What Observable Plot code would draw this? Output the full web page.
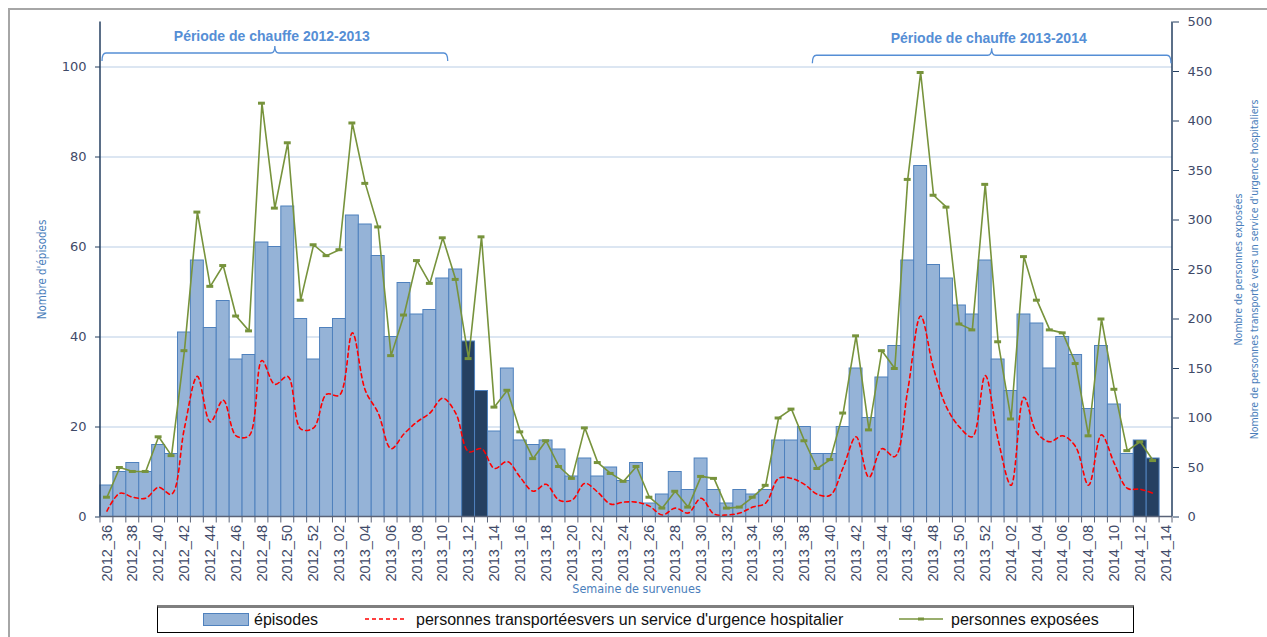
<!DOCTYPE html>
<html>
<head>
<meta charset="utf-8">
<script src="https://cdn.jsdelivr.net/npm/d3@7"></script>
<script src="https://cdn.jsdelivr.net/npm/@observablehq/plot@0.6"></script>
<style>
  html, body { margin:0; padding:0; background:#fff; }
  body { width:1267px; height:637px; overflow:hidden; position:relative; font-family:"Liberation Sans", Arial, sans-serif; }
  #frame { position:absolute; left:8px; top:8px; width:1400px; height:800px; border:2px solid #a6a6a6; box-sizing:border-box; }
  #chart { position:absolute; left:0; top:0; }
  #legend { position:absolute; left:157px; top:605px; width:975px; height:24px; border:1px solid #000; border-top:3px solid #7f7f7f; background:#fff; }
  .li { position:absolute; top:0; height:24px; line-height:24px; font-size:16px; color:#111; white-space:nowrap; }
  .sw { position:absolute; top:5px; }
</style>
</head>
<body>
<div id="frame"></div>
<div id="chart"></div>
<div id="legend">
  <svg class="sw" style="left:45px" width="46" height="14"><rect x="0.5" y="0.5" width="45" height="12" fill="#95b3d7" stroke="#4f81bd"/></svg>
  <div class="li" style="left:96px">épisodes</div>
  <svg class="sw" style="left:207px" width="42" height="14"><line x1="0" y1="6" x2="42" y2="6" stroke="#ff0000" stroke-width="1.6" stroke-dasharray="4,3"/></svg>
  <div class="li" style="left:258px">personnes transportéesvers un service d'urgence hospitalier</div>
  <svg class="sw" style="left:741px" width="44" height="14"><line x1="0" y1="6" x2="44" y2="6" stroke="#77933c" stroke-width="1.5"/><line x1="19" y1="6" x2="25" y2="6" stroke="#77933c" stroke-width="3"/></svg>
  <div class="li" style="left:793px">personnes exposées</div>
</div>
<script>
// ---- categories (weeks) ----
const weeks2012 = [36,37,38,39,40,41,42,43,44,45,46,47,48,49,50,51,52];
const weeks2013 = [1,2,3,4,5,6,7,8,9,10,11,12,13,14,15,16,17,18,19,20,21,22,23,24,25,26,27,28,29,30,31,32,33,34,35,36,37,38,39,40,41,42,43,44,45,46,47,48,49,50,51,52];
const weeks2014 = [1,2,3,4,5,6,7,8,9,10,11,12,13,14];
const pad = n => String(n).padStart(2, "0");
const weeks = [
  ...weeks2012.map(w => "2012_" + pad(w)),
  ...weeks2013.map(w => "2013_" + pad(w)),
  ...weeks2014.map(w => "2014_" + pad(w))
];

// ---- series (one value per week, 2014_14 empty) ----
const episodes = [7,10,12,10,16,14,41,57,42,48,35,36,61,60,69,44,35,
  42,44,67,65,58,40,52,45,46,53,55,39,28,19,33,17,16,17,15,9,13,9,11,8,12,3,5,10,6,13,6,3,6,5,6,17,17,20,14,14,20,33,22,31,38,57,78,56,53,47,45,57,
  35,28,45,43,33,40,36,24,38,25,14,17,13,null];
const exposed = [20,50,46,46,81,62,168,308,233,254,203,188,418,312,378,219,275,
  264,270,398,337,293,163,204,259,236,282,240,160,283,111,128,86,59,77,51,39,90,55,44,36,51,20,9,26,10,41,39,9,10,20,32,100,109,77,49,58,105,183,88,168,150,341,449,325,313,195,189,336,
  177,99,263,219,189,186,155,82,200,129,67,76,57,null];
const transported = [6,24,20,19,30,23,90,142,96,118,82,82,158,134,142,89,90,
  124,123,186,128,105,69,84,96,105,120,105,66,69,49,56,40,26,33,17,17,34,25,13,15,15,11,2,9,4,19,3,2,4,10,14,39,39,33,23,22,50,81,40,69,61,128,203,150,111,91,81,143,
  78,32,121,85,76,82,71,32,83,54,29,28,24,null];
const highlighted = ["2013_12","2013_13","2014_12","2014_13"];

// ---- axes ----
const leftTicks = [0,20,40,60,80,100];
const rightTicks = [0,50,100,150,200,250,300,350,400,450,500];
const leftMax = 110, rightMax = 500;
const K = leftMax / rightMax;

// ---- annotations ----
const periods = [
  {label:"Période de chauffe 2012-2013", from:"2012_36", to:"2013_10", level:103},
  {label:"Période de chauffe 2013-2014", from:"2013_39", to:"2014_14", level:102.5}
];

const rows = weeks.map((w,i) => ({week:w, ep:episodes[i], exp:exposed[i], tr:transported[i], dark:highlighted.includes(w)}));
const lightBars = rows.filter(d => d.ep != null && !d.dark);
const darkBars = rows.filter(d => d.ep != null && d.dark);
const lineRows = rows.filter(d => d.exp != null);
const labelWeeks = weeks.filter((w,i) => i % 2 === 0);

const AX = "#3f4a68";
const TITLE = "#4a7ebb";
const TFONT = "'DejaVu Sans Condensed', 'Liberation Sans Narrow', sans-serif";

function decorations(index, scales, values, dims) {
  const x = scales.x, y = scales.y;
  const bw = x.bandwidth();
  const x0 = dims.marginLeft, x1 = dims.width - dims.marginRight;
  const yb = dims.height - dims.marginBottom, yt = dims.marginTop;
  const g = d3.create("svg:g");
  // axis lines
  g.append("line").attr("x1", x0).attr("x2", x0).attr("y1", yt).attr("y2", yb).attr("stroke", "#243f60").attr("stroke-width", 1.5);
  g.append("line").attr("x1", x1).attr("x2", x1).attr("y1", yt).attr("y2", yb).attr("stroke", "#243f60").attr("stroke-width", 1.5);
  g.append("line").attr("x1", x0).attr("x2", x1).attr("y1", yb).attr("y2", yb).attr("stroke", "#5a6378").attr("stroke-width", 1.5);
  // boundary ticks
  const xs = weeks.map(w => x(w)).concat([x(weeks[weeks.length-1]) + bw]);
  g.selectAll("line.bt").data(xs).join("line").attr("class","bt")
    .attr("x1", d => d).attr("x2", d => d).attr("y1", yb).attr("y2", yb + 6)
    .attr("stroke", "#5a6378").attr("stroke-width", 1);
  // braces
  periods.forEach(p => {
    const braceY = y(p.level);
    const a = x(p.from) + 2, b = x(p.to) + bw - 1, m = (a + b) / 2, h = 8, r = 4;
    const path = `M${a},${braceY + h} Q${a},${braceY} ${a + r},${braceY} L${m - r},${braceY} Q${m},${braceY} ${m},${braceY - 7} Q${m},${braceY} ${m + r},${braceY} L${b - r},${braceY} Q${b},${braceY} ${b},${braceY + h}`;
    g.append("path").attr("d", path).attr("fill", "none").attr("stroke", "#558ed5").attr("stroke-width", 1.3);
    g.append("text").attr("x", m - 3).attr("y", braceY - 12).attr("text-anchor", "middle")
      .attr("font-family", "'Liberation Sans', Arial, sans-serif").attr("font-weight", "bold").attr("font-size", 14)
      .attr("fill", "#558ed5").text(p.label);
  });
  return g.node();
}

const chart = Plot.plot({
  width: 1267, height: 602,
  marginLeft: 100, marginRight: 95, marginTop: 21.5, marginBottom: 85.5,
  style: {background: "transparent", overflow: "visible"},
  x: {type: "band", domain: weeks, padding: 0, axis: null},
  y: {domain: [0, leftMax], axis: null},
  marks: [
    Plot.ruleY(leftTicks.filter(v => v > 0), {stroke: "#b9cde5", strokeWidth: 1.2}),
    Plot.barY(lightBars, {x: "week", y: "ep", fill: "#95b3d7", stroke: "#4f81bd", strokeWidth: 1}),
    Plot.barY(darkBars, {x: "week", y: "ep", fill: "#254061", stroke: "#4f81bd", strokeWidth: 1}),
    Plot.line(lineRows, {x: "week", y: d => d.tr * K, stroke: "#ff0000", strokeWidth: 1.6, strokeDasharray: "4,3.5", curve: "catmull-rom"}),
    Plot.line(lineRows, {x: "week", y: d => d.exp * K, stroke: "#77933c", strokeWidth: 1.6}),
    Plot.tickY(lineRows, {x: "week", y: d => d.exp * K, stroke: "#77933c", strokeWidth: 3, insetLeft: 3, insetRight: 3}),
    Plot.axisX({ticks: labelWeeks, tickSize: 0, tickRotate: -90, tickPadding: 8, label: null,
      fontSize: 14.5, fontFamily: "'Liberation Sans', Arial, sans-serif", fill: AX}),
    Plot.axisY({anchor: "left", ticks: leftTicks, tickSize: 5, tickPadding: 9, label: null,
      fontSize: 13, fontFamily: "'DejaVu Sans', sans-serif", fill: AX, stroke: "#243f60"}),
    Plot.axisY({anchor: "right", ticks: rightTicks.map(v => v * K), tickFormat: d => String(Math.round(d / K)),
      tickSize: 6, tickPadding: 9, label: null, fontSize: 13, fontFamily: "'DejaVu Sans', sans-serif", fill: AX, stroke: "#243f60"}),
    Plot.text(["Nombre d'épisodes"], {frameAnchor: "left", textAnchor: "middle", dx: -58, rotate: -90, fill: TITLE, fontSize: 11.5, fontFamily: TFONT}),
    Plot.text(["Nombre de personnes exposées"], {frameAnchor: "right", textAnchor: "middle", dx: 66, rotate: -90, fill: TITLE, fontSize: 10.5, fontFamily: TFONT}),
    Plot.text(["Nombre de personnes transporté vers un service d'urgence hospitaliers"], {frameAnchor: "right", textAnchor: "middle", dx: 82, rotate: -90, fill: TITLE, fontSize: 10.5, fontFamily: TFONT}),
    Plot.text(["Semaine de survenues"], {frameAnchor: "bottom", textAnchor: "middle", dy: 76, fill: TITLE, fontSize: 12.5, fontFamily: TFONT}),
    decorations
  ]
});
document.getElementById("chart").appendChild(chart);
</script>
</body>
</html>
